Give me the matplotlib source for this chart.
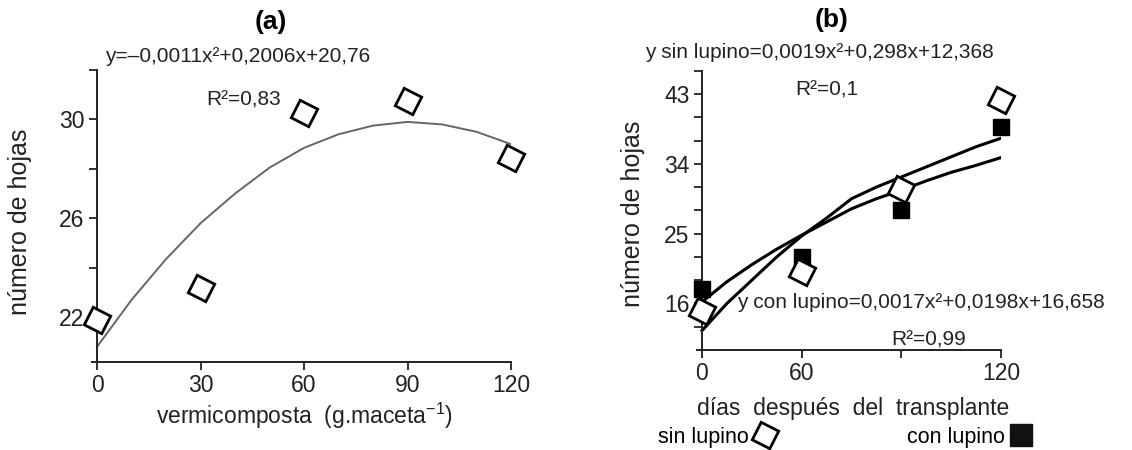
import numpy as np
import matplotlib.pyplot as plt
from matplotlib.lines import Line2D

plt.rcParams['font.family'] = ['Liberation Sans', 'DejaVu Sans']
plt.rcParams['mathtext.fontset'] = 'custom'
plt.rcParams['mathtext.rm'] = 'Liberation Sans'
plt.rcParams['mathtext.it'] = 'Liberation Sans:italic'

# (a) vermicomposta
dosis = [0, 30, 60, 90, 120]
hojas_a = [21.9, 23.2, 30.25, 30.75, 28.45]
curva_a_x = [0, 10, 20, 30, 40, 50, 60, 70, 80, 90, 100, 110, 120]
curva_a_y = [20.8, 22.7, 24.35, 25.8, 27.0, 28.05, 28.85, 29.4, 29.75, 29.9, 29.8, 29.5, 29.0]
yticks_a = [22, 24, 26, 28, 30, 32]
ylabels_a = ['22', '', '26', '', '30', '']

# (b) dias despues del transplante
dias_pos = [0, 1, 2, 3]
dias_labels = ['0', '60', '', '120']
sin_lupino = [15.0, 20.0, 30.8, 42.2]
con_lupino = [17.8, 22.0, 28.0, 38.8]
curva_pos = [0, 0.25, 0.5, 0.75, 1, 1.25, 1.5, 1.75, 2, 2.25, 2.5, 2.75, 3]
curva_sin = [12.5, 16.0, 19.0, 22.0, 24.7, 27.0, 29.5, 31.0, 32.3, 33.6, 34.9, 36.2, 37.3]
curva_con = [16.2, 18.8, 21.0, 23.0, 24.8, 26.5, 28.2, 29.5, 30.6, 31.8, 32.9, 33.8, 34.8]
yticks_b = [13, 16, 19, 22, 25, 28, 31, 34, 37, 40, 43, 46]
ylabels_b = ['', '16', '', '', '25', '', '', '34', '', '', '43', '']

W, H = 1132, 450
diamante = (4, 0, 18)
fig = plt.figure(figsize=(W / 100, H / 100), dpi=100)


def fx(px):
    return px / W


def fy(py):
    return 1 - py / H


def estilo(ax):
    for s in ['top', 'right']:
        ax.spines[s].set_visible(False)
    for s in ['left', 'bottom']:
        ax.spines[s].set_linewidth(1.4)
        ax.spines[s].set_color('#222222')
    ax.tick_params(direction='out', length=6, width=1.3, colors='#222222',
                   labelsize=16.5, labelcolor='#222222', pad=3)


# ---- panel (a)
ax = fig.add_axes([fx(92), fy(361.7), fx(511 - 92), 291.7 / H])
estilo(ax)
ax.spines['left'].set_position(('data', 0))
ax.plot(curva_a_x, curva_a_y, color='#666666', lw=1.4)
ax.plot(dosis, hojas_a, linestyle='none', marker=diamante, ms=20, mfc='white',
        mec='black', mew=2.0, clip_on=False, zorder=5)
ax.set_xlim(-1.45, 120)
ax.set_ylim(20.2, 32)
ax.set_xticks(dosis)
ax.set_yticks(yticks_a)
ax.set_yticklabels(ylabels_a)

fig.text(fx(271), fy(22), '(a)', fontsize=19, fontweight='bold', ha='center', va='center')
fig.text(fx(105), fy(57), 'y=–0,0011x²+0,2006x+20,76', fontsize=15, ha='left', va='center',
         color='#222222')
fig.text(fx(206), fy(100), 'R²=0,83', fontsize=15, ha='left', va='center', color='#222222')
fig.text(fx(20), fy(222), 'número de hojas', fontsize=18, rotation=90, ha='center',
         va='center', color='#222222')
fig.text(fx(304), fy(416), r'vermicomposta  (g.maceta$^{-1}$)', fontsize=16.5, ha='center',
         va='center', color='#222222')

# ---- panel (b)
bx = fig.add_axes([fx(697), fy(350), fx(1001 - 697), (350 - 70.7) / H])
estilo(bx)
bx.spines['left'].set_position(('data', 0))
bx.plot(curva_pos, curva_sin, color='black', lw=2.2)
bx.plot(curva_pos, curva_con, color='black', lw=2.2)
bx.plot(dias_pos, con_lupino, linestyle='none', marker='s', ms=12, mfc='black',
        mec='black', clip_on=False, zorder=4)
bx.plot(dias_pos, sin_lupino, linestyle='none', marker=diamante, ms=20, mfc='white',
        mec='black', mew=2.0, clip_on=False, zorder=5)
bx.set_xlim(-0.05, 3)
bx.set_ylim(10, 46)
bx.set_xticks(dias_pos)
bx.set_xticklabels(dias_labels)
bx.set_yticks(yticks_b)
bx.set_yticklabels(ylabels_b)

fig.text(fx(832), fy(20), '(b)', fontsize=19, fontweight='bold', ha='center', va='center')
fig.text(fx(645), fy(52), 'y sin lupino=0,0019x²+0,298x+12,368', fontsize=15, ha='left',
         va='center', color='#222222')
fig.text(fx(795), fy(90), 'R²=0,1', fontsize=15, ha='left', va='center', color='#222222')
fig.text(fx(737), fy(303), 'y con lupino=0,0017x²+0,0198x+16,658', fontsize=15, ha='left',
         va='center', color='#222222')
fig.text(fx(891), fy(340), 'R²=0,99', fontsize=15, ha='left', va='center', color='#222222')
fig.text(fx(633), fy(214), 'número de hojas', fontsize=18, rotation=90, ha='center',
         va='center', color='#222222')
fig.text(fx(853), fy(408), 'días  después  del  transplante', fontsize=16.5, ha='center',
         va='center', color='#222222')

h_sin = Line2D([], [], linestyle='none', marker=diamante, ms=20, mfc='white', mec='black', mew=2.0)
h_con = Line2D([], [], linestyle='none', marker='s', ms=16, mfc='#111111', mec='#111111')
fig.legend([h_sin, h_con], ['sin lupino', 'con lupino'], loc='center',
           bbox_to_anchor=(fx(846), fy(437)), ncol=2, markerfirst=False, frameon=False,
           fontsize=15.5, columnspacing=6.0, handletextpad=0.15, handlelength=1.2,
           borderpad=0, borderaxespad=0)

fig.savefig('out.png', dpi=100)
